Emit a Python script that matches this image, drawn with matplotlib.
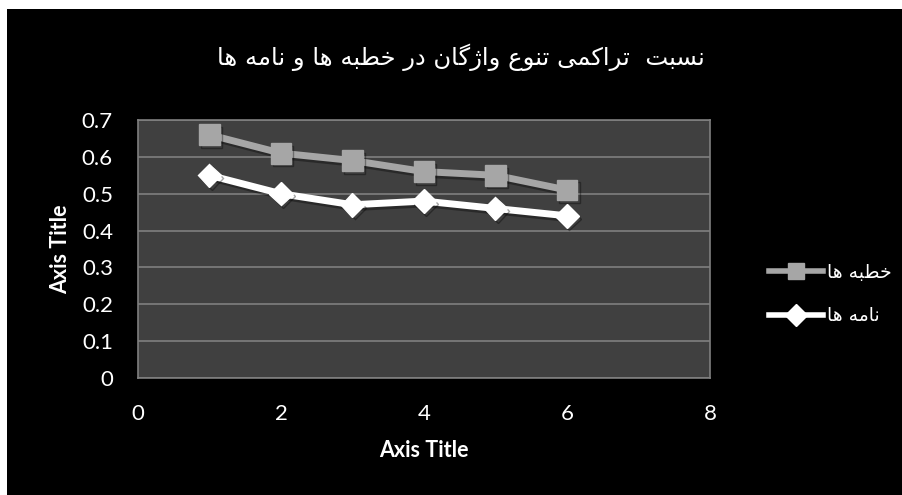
import numpy as np
import matplotlib
matplotlib.use("Agg")
import matplotlib.pyplot as plt
import matplotlib.patheffects as pe
from matplotlib.patches import Rectangle

# ============================================================
# Data
# ============================================================
x_vals = [1, 2, 3, 4, 5, 6]
khotbe = [0.66, 0.61, 0.59, 0.56, 0.55, 0.51]
name = [0.55, 0.50, 0.47, 0.48, 0.46, 0.44]

title_txt = "نسبت  تراکمی تنوع واژگان در خطبه ها و نامه ها"
label_khotbe = "خطبه ها"
label_name = "نامه ها"

# ============================================================
# Minimal Arabic/Persian shaping (matplotlib has no bidi)
# forms: isolated, final, initial, medial
# ============================================================
FORMS = {
    "ا": ("\uFE8D", "\uFE8E", None, None),
    "ب": ("\uFE8F", "\uFE90", "\uFE91", "\uFE92"),
    "ت": ("\uFE95", "\uFE96", "\uFE97", "\uFE98"),
    "خ": ("\uFEA5", "\uFEA6", "\uFEA7", "\uFEA8"),
    "د": ("\uFEA9", "\uFEAA", None, None),
    "ر": ("\uFEAD", "\uFEAE", None, None),
    "س": ("\uFEB1", "\uFEB2", "\uFEB3", "\uFEB4"),
    "ط": ("\uFEC1", "\uFEC2", "\uFEC3", "\uFEC4"),
    "ع": ("\uFEC9", "\uFECA", "\uFECB", "\uFECC"),
    "م": ("\uFEE1", "\uFEE2", "\uFEE3", "\uFEE4"),
    "ن": ("\uFEE5", "\uFEE6", "\uFEE7", "\uFEE8"),
    "ه": ("\uFEE9", "\uFEEA", "\uFEEB", "\uFEEC"),
    "و": ("\uFEED", "\uFEEE", None, None),
    "ژ": ("\uFB8A", "\uFB8B", None, None),
    "ک": ("\uFB8E", "\uFB8F", "\uFB90", "\uFB91"),
    "گ": ("\uFB92", "\uFB93", "\uFB94", "\uFB95"),
    "ی": ("\uFBFC", "\uFBFD", "\uFBFE", "\uFBFF"),
}


def shape(text):
    out = []
    n = len(text)
    for i, ch in enumerate(text):
        if ch not in FORMS:
            out.append(ch)
            continue
        f = FORMS[ch]
        prev = text[i - 1] if i > 0 else None
        nxt = text[i + 1] if i < n - 1 else None
        join_prev = prev in FORMS and FORMS[prev][2] is not None
        join_next = nxt in FORMS and f[2] is not None
        if join_prev and join_next:
            out.append(f[3])
        elif join_prev:
            out.append(f[1])
        elif join_next:
            out.append(f[2])
        else:
            out.append(f[0])
    return "".join(out)[::-1]


# ============================================================
# Plot
# ============================================================
plt.rcParams["font.family"] = ["Lato", "DejaVu Sans"]

W, H = 903, 495
fig = plt.figure(figsize=(W / 100, H / 100), dpi=100)
fig.patch.set_facecolor("white")
fig.patches.append(Rectangle((7 / W, 0), 1, 1 - 9 / H, transform=fig.transFigure,
                             facecolor="black", edgecolor="none", zorder=-10))

ax = fig.add_axes([138 / W, 1 - 378 / H, (710 - 138) / W, (378 - 120) / H])
ax.set_facecolor("#404040")
for sp in ax.spines.values():
    sp.set_color("#7f7f7f")
    sp.set_linewidth(1.2)

ax.set_xlim(0, 8)
ax.set_ylim(0, 0.7)
ax.set_xticks(np.arange(0, 9, 2))
ax.set_yticks(np.round(np.arange(0, 0.71, 0.1), 1))
ax.set_yticklabels(["0"] + [f"{v:.1f}" for v in np.arange(0.1, 0.71, 0.1)])
ax.yaxis.grid(True, color="#7f7f7f", linewidth=1.2)
ax.set_axisbelow(True)
ax.tick_params(axis="y", length=0, pad=18, labelsize=16, labelcolor="white")
ax.tick_params(axis="x", length=0, pad=19, labelsize=16, labelcolor="white")

shadow = [pe.SimpleLineShadow(offset=(1.5, -2), shadow_color="black", alpha=0.35),
          pe.Normal()]

ax.plot(x_vals, khotbe, color="#a6a6a6", linewidth=5, marker="s", markersize=15,
        markerfacecolor="#a6a6a6", markeredgecolor="#a6a6a6",
        label=shape(label_khotbe), path_effects=shadow, zorder=3)
ax.plot(x_vals, name, color="white", linewidth=5, marker="D", markersize=12,
        markerfacecolor="white", markeredgecolor="white",
        label=shape(label_name), path_effects=shadow, zorder=3)

ax.set_xlabel("Axis Title", fontsize=15.5, fontweight="bold", color="white", labelpad=11)
ax.set_ylabel("Axis Title", fontsize=15.5, fontweight="bold", color="white", labelpad=8)

fig.text(461 / W, 1 - 57 / H, shape(title_txt), ha="center", va="center",
         fontsize=17.5, color="white", family=["DejaVu Sans"])

leg = fig.legend(loc="center left", bbox_to_anchor=(752 / W, 1 - 294 / H),
                 frameon=False, handlelength=2.9, labelspacing=1.3,
                 handletextpad=0.2, prop={"family": "DejaVu Sans", "size": 13.5})
for t in leg.get_texts():
    t.set_color("white")
for h in leg.legend_handles:
    h.set_linewidth(4)
    h.set_markersize(11)
    h.set_path_effects([])

fig.savefig("out.png", dpi=100, facecolor=fig.get_facecolor())
